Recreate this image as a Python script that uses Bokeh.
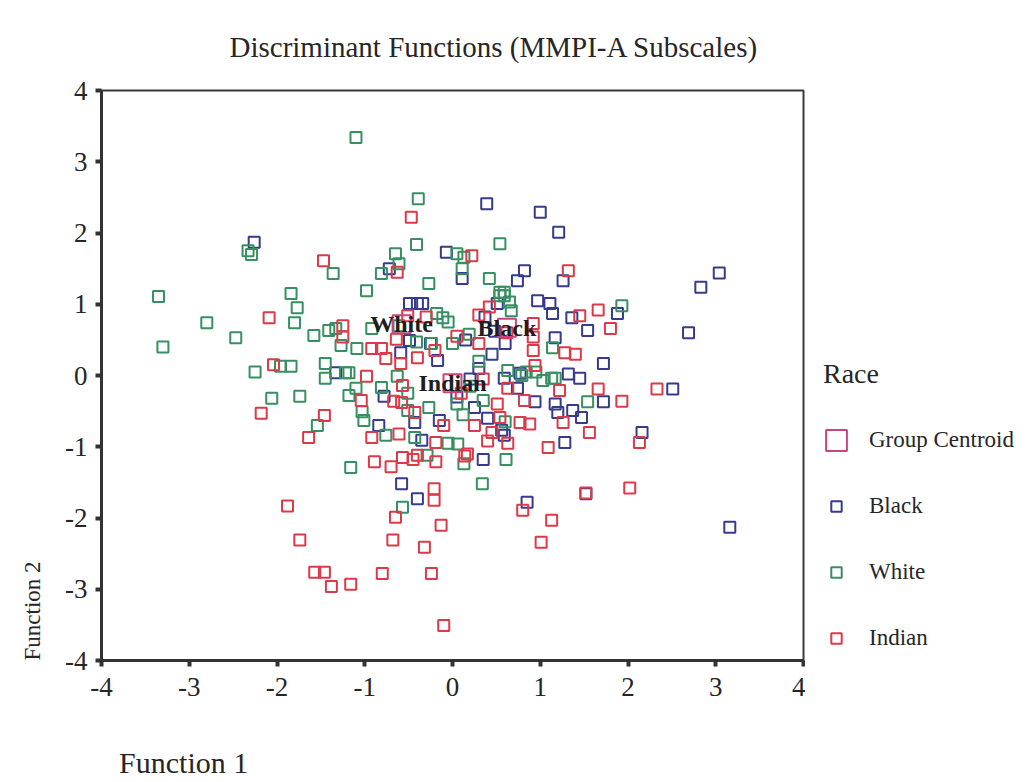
from bokeh.plotting import figure
from bokeh.models import Range1d, FixedTicker, Legend, LegendItem, Title, Label
from bokeh.layouts import row, column
from bokeh.core.properties import value
from bokeh.embed import file_html
from bokeh.resources import INLINE

# ---- data ----
black_x = [-2.26, 0.39, 1.00, 1.21, -0.07, -0.72, 0.11, 1.26, 0.82, 0.74, 3.04, 2.83,
           -0.49, -0.40, -0.34, 0.51, 0.97, 1.11, 1.14, 1.36, 1.88, 1.54, 2.69, 1.17,
           1.72, 0.77, 0.59, 1.32, 1.45, 0.74, 0.94, 1.17, 1.20, 1.37, 1.47, 1.72,
           2.51, 2.16, 1.28, 0.56, 0.59, 0.35, 1.52, 0.85, 3.16, -0.58, -0.40, -0.84,
           -0.43, -0.35, -0.15, -0.78, -1.33, -0.59, -0.49, -0.17, 0.37, 0.15, 0.45,
           0.30, 0.05, 0.60, -0.25, 0.25, 0.40, 0.48, 0.20]
black_y = [1.87, 2.41, 2.29, 2.01, 1.73, 1.50, 1.36, 1.33, 1.47, 1.33, 1.44, 1.24,
           1.01, 1.01, 1.01, 1.01, 1.05, 1.01, 0.87, 0.81, 0.87, 0.63, 0.60, 0.53,
           0.17, 0.03, -0.04, 0.02, -0.04, -0.18, -0.37, -0.40, -0.52, -0.49, -0.59, -0.37,
           -0.19, -0.80, -0.94, -0.77, -0.84, -1.18, -1.66, -1.78, -2.13, -1.52, -1.73, -0.70,
           -0.66, -0.91, -0.63, -0.29, 0.04, 0.32, 0.49, 0.21, 0.82, 0.50, 0.30,
           0.10, -0.30, 0.45, 0.45, -0.45, -0.60, 0.62, -0.05]

white_x = [-1.10, -0.39, -3.35, -3.30, -2.80, -2.47, -2.33, -2.29, -1.84, -1.77, -1.80,
           -1.58, -1.41, -1.36, -2.25, -1.96, -1.84, -1.45, -1.45, -2.06, -1.74, -1.54,
           -0.41, -0.65, -0.61, -0.81, -0.27, -0.98, 0.54, 0.05, 0.13, 0.11, 0.42, 0.54,
           0.59, 0.54, 0.59, 0.65, 0.67, 1.93, 1.14, -1.33, -1.27, -1.09, -0.92, -0.18,
           -0.11, -0.41, -0.24, -1.22, -1.18, -0.63, -1.18, -1.10, -1.03, -1.01, -0.81,
           -0.51, -0.51, -0.27, -0.76, -0.43, -0.29, -1.16, -0.57, 0.61, 0.13, 0.34,
           1.54, 1.03, 1.13, 1.17, 0.79, 0.63, 0.84, 0.95, 0.19, -0.05, 0.00, 0.30,
           0.05, 0.20, 0.12, -0.05, 0.60, 0.35, -0.61, 0.06]
white_y = [3.34, 2.48, 1.11, 0.40, 0.74, 0.53, 1.75, 1.70, 1.15, 0.95, 0.74,
           0.56, 0.63, 1.43, 0.05, 0.13, 0.13, 0.17, -0.04, -0.32, -0.29, -0.70,
           1.84, 1.71, 1.57, 1.43, 1.29, 1.19, 1.85, 1.71, 1.66, 1.50, 1.36, 1.17,
           1.17, 1.12, 1.12, 1.03, 0.91, 0.98, 0.39, 0.66, 0.42, 0.38, 0.66, 0.87,
           0.81, 0.47, 0.45, 0.04, 0.04, -0.01, -0.28, -0.18, -0.51, -0.63, -0.17,
           -0.25, -0.49, -0.45, -0.84, -0.87, -1.12, -1.29, -1.85, -1.18, -1.24, -1.52,
           -0.37, -0.07, -0.04, -0.04, 0.00, 0.07, 0.05, 0.05, 0.58, 0.75, 0.45, 0.20,
           -0.40, -0.15, -0.55, -0.95, -0.65, -0.35, 0.70, -0.96]

indian_x = [-0.47, -1.47, -0.63, 0.22, 1.32, -2.09, -1.25, -1.25, -0.92, -0.81, -0.76,
            -0.51, -0.30, -0.64, -0.59, -2.04, -0.98, 0.42, 1.45, 1.66, 1.80, 1.28, 1.40,
            0.92, 0.92, 0.92, 0.94, -2.18, -1.46, -1.64, -1.04, -0.67, -0.58, -0.57, -0.43,
            -0.92, -0.61, -0.19, -0.89, -0.70, -0.57, -0.45, -0.40, -0.19, -0.21, -0.21,
            -0.65, -0.13, -1.88, -1.74, -0.68, -0.32, -1.57, -1.46, -1.38, -1.16, -0.80,
            -0.24, -0.10, 2.33, 1.93, 2.13, 1.56, 1.09, 0.14, 1.52, 2.02, 0.80, 1.13, 1.01,
            1.22, 1.66, 0.63, 0.82, 1.26, 0.77, 0.88, 0.40, 0.63, 0.51, 0.54, 0.17, -0.40,
            -0.20, 0.05, 0.30, 0.35, 0.10, -0.10, 0.25, 0.45, 0.30, 0.62]
indian_y = [2.22, 1.61, 1.45, 1.68, 1.47, 0.81, 0.70, 0.54, 0.38, 0.38, 0.24,
            0.84, 0.82, 0.51, 0.17, 0.15, -0.01, 0.96, 0.84, 0.92, 0.66, 0.32, 0.30,
            0.73, 0.54, 0.35, 0.14, -0.53, -0.56, -0.87, -0.35, -0.36, -0.38, -0.14, -0.52,
            -0.87, -0.82, -0.94, -1.21, -1.28, -1.15, -1.18, -1.12, -1.21, -1.59, -1.75,
            -1.99, -2.10, -1.83, -2.31, -2.31, -2.41, -2.76, -2.76, -2.96, -2.93, -2.78,
            -2.78, -3.51, -0.19, -0.36, -0.94, -0.80, -1.01, -1.13, -1.65, -1.58, -1.89, -2.03, -2.34,
            -0.21, -0.19, -0.18, -0.35, -0.66, -0.66, -0.68, -0.92, -0.95, -0.40, -0.59, -1.10, 0.25,
            0.35, 0.55, 0.45, -0.05, -0.25, -0.70, -0.70, -0.80, 0.85, 0.60]

centroid_names = ["White", "Black", "Indian"]
centroid_x = [-0.58, 0.62, 0.00]
centroid_y = [0.72, 0.67, -0.11]

legend_labels = ["Group Centroid", "Black", "White", "Indian"]

axis_ticks = [-4, -3, -2, -1, 0, 1, 2, 3, 4]
tick_labels = {t: str(t) for t in axis_ticks}

BLUE = "#363b8e"
GREEN = "#379062"
RED = "#dc3a48"
CENT = "#c8457f"
FONT = "Liberation Serif"
TXT = "#262626"
W_MAIN = 805
H_MAIN = 712
H_STRIP = 70
H_ALL = H_MAIN + H_STRIP


def draw_series(fig):
    """Draw the three groups and the centroids on a figure; return renderers."""
    rb = fig.scatter(black_x, black_y, marker="square", size=11, fill_color=None,
                     line_color=BLUE, line_width=2)
    rw = fig.scatter(white_x, white_y, marker="square", size=11, fill_color=None,
                     line_color=GREEN, line_width=2)
    ri = fig.scatter(indian_x, indian_y, marker="square", size=11, fill_color=None,
                     line_color=RED, line_width=2)
    rc = fig.rect(x=centroid_x, y=centroid_y, width=18, height=18,
                  width_units="screen", height_units="screen",
                  fill_color=None, line_color=CENT, line_width=2)
    return rc, rb, rw, ri


p = figure(width=W_MAIN, height=H_MAIN, x_range=Range1d(-4, 4), y_range=Range1d(-4, 4),
           output_backend="svg", toolbar_location=None,
           min_border_left=100, min_border_right=2, min_border_top=90, min_border_bottom=52,
           title="Discriminant Functions (MMPI-A Subscales)")

p.title.align = "left"
p.title.offset = 128
p.title.standoff = 56
p.title.text_font = FONT
p.title.text_font_size = "29px"
p.title.text_font_style = "normal"
p.title.text_color = TXT

p.xgrid.visible = False
p.ygrid.visible = False
p.outline_line_color = "#3a3a3a"
p.outline_line_width = 2
p.background_fill_color = "white"
p.border_fill_color = "white"

for ax in (p.xaxis, p.yaxis):
    ax.ticker = FixedTicker(ticks=axis_ticks, minor_ticks=[])
    ax.major_label_overrides = tick_labels
    ax.major_label_text_font = FONT
    ax.major_label_text_font_size = "27px"
    ax.major_label_text_color = TXT
    ax.axis_line_color = "#333333"
    ax.axis_line_width = 3
    ax.major_tick_line_color = "#333333"
    ax.major_tick_line_width = 4
    ax.major_tick_out = 6
    ax.major_tick_in = 0
    ax.minor_tick_line_color = None
p.xaxis.major_label_standoff = 11
p.yaxis.major_label_standoff = 8

draw_series(p)

p.text(x=centroid_x, y=centroid_y, text=centroid_names,
       text_font=value(FONT), text_font_style="bold", text_font_size="24px",
       text_color="#1e1e1e", text_align="center", text_baseline="middle")

p.add_layout(Title(text="Function 2", align="left", offset=0, standoff=35,
                   text_font=FONT, text_font_size="23px", text_font_style="normal",
                   text_color=TXT), "left")

# ---- strip below the plot holding the x-axis title (left aligned) ----
# Its frame is aligned with the main plot's frame, so it shares the x scale.
s = figure(width=W_MAIN, height=H_STRIP, x_range=Range1d(-4, 4), y_range=Range1d(0, H_STRIP),
           output_backend="svg", toolbar_location=None,
           min_border_left=0, min_border_right=0, min_border_top=0, min_border_bottom=0)
s.axis.visible = False
s.xgrid.visible = False
s.ygrid.visible = False
s.outline_line_color = None
s.add_layout(Label(x=-3.80, y=20, text="Function 1", text_font=FONT, text_font_size="30px",
                   text_color=TXT, text_align="left", text_baseline="middle"))

# ---- legend panel (separate figure to the right) ----
# Its ranges lie outside the data, so the series only serve as legend samples.
q = figure(width=1018 - W_MAIN, height=H_ALL, x_range=Range1d(10, 11), y_range=Range1d(10, 11),
           output_backend="svg", toolbar_location=None,
           min_border_left=0, min_border_right=0, min_border_top=0, min_border_bottom=0)
q.axis.visible = False
q.xgrid.visible = False
q.ygrid.visible = False
q.outline_line_color = None
q.background_fill_color = "white"
q.border_fill_color = "white"

legend_renderers = draw_series(q)

legend = Legend(items=[LegendItem(label=lab, renderers=[r])
                       for lab, r in zip(legend_labels, legend_renderers)],
                title="Race", location=(18, 131),
                title_text_font=FONT, title_text_font_size="28px",
                title_text_font_style="normal", title_text_color=TXT,
                title_standoff=37,
                label_text_font=FONT, label_text_font_size="23px", label_text_color=TXT,
                glyph_width=26, glyph_height=26, label_standoff=20, spacing=40,
                padding=0, margin=0, border_line_color=None,
                background_fill_alpha=0)
q.add_layout(legend)

layout = row(column(p, s), q)
open("out.html", "w").write(file_html(layout, INLINE))
